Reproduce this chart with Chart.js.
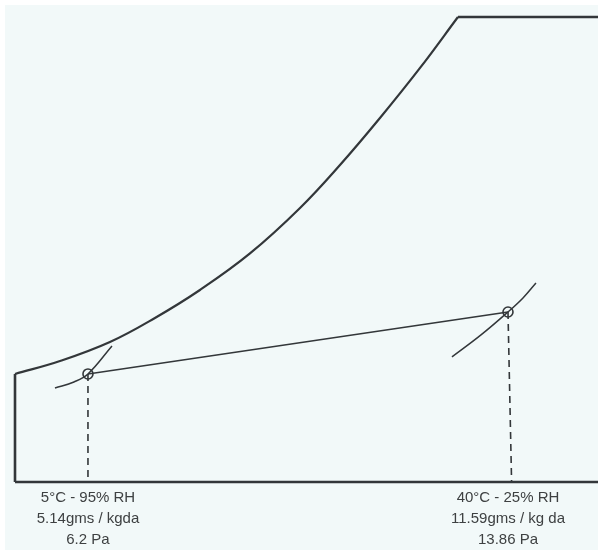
<!DOCTYPE html>
<html lang="en">
<head>
<meta charset="UTF-8">
<title>Psychrometric process</title>
<script src="https://cdn.jsdelivr.net/npm/chart.js"></script>
<style>
  * { margin: 0; padding: 0; box-sizing: border-box; }
  body { background: #ffffff; width: 598px; height: 550px; overflow: hidden; position: relative; }
  #bg { position: absolute; left: 5px; top: 5px; right: 0; bottom: 0; background: #f2f9f9; }
  #chart { position: absolute; left: 0; top: 0; }
</style>
</head>
<body>
<div id="bg"></div>
<canvas id="chart" width="598" height="550"></canvas>
<script>
// x = dry bulb temperature (°C), y = moisture content (g/kg dry air), schematic
const X_MIN = -2.33, X_MAX = 47.5;
const Y_MIN = -6.1, Y_MAX = 44.05;

// saturation curve
const satT = [-1.08, 2.67, 6.83, 10.58, 14.33, 18.5, 22.67, 26.0, 29.33, 32.67, 35.83];
const satW = [5.14, 6.49, 8.47, 10.97, 13.88, 17.68, 22.41, 26.88, 31.77, 36.98, 42.28];

// chart frame: top edge, left edge, bottom edge
const topT = [35.83, 47.5], topW = [42.28, 42.28];
const leftT = [-1.08, -1.08], leftW = [5.14, Y_MIN];
const bottomT = [-1.08, 47.5], bottomW = [Y_MIN, Y_MIN];

// relative humidity curves through the two states
const rh95T = [2.25, 3.83, 5.0, 7.0];
const rh95W = [3.68, 4.31, 5.14, 8.05];
const rh25T = [35.33, 37.75, 40.0, 41.25, 42.33];
const rh25W = [6.91, 9.2, 11.59, 13.05, 14.61];

// the two states and the process between them
const stateT = [5, 40];
const stateW = [5.14, 11.59];
const dropT = [[5, 5], [40, 40.3]];

const tickT = [5, 40];
const tickLabels = [
  ['5°C - 95% RH', '5.14gms / kgda', '6.2 Pa'],
  ['40°C - 25% RH', '11.59gms / kg da', '13.86 Pa']
];

const INK = '#33373a';
const pts = (xs, ys) => xs.map((x, i) => ({ x: x, y: ys[i] }));

function line(data, width, extra) {
  return Object.assign({
    data: data,
    borderColor: INK,
    borderWidth: width,
    pointRadius: 0,
    fill: false,
    showLine: true,
    clip: false
  }, extra || {});
}

const datasets = [
  line(pts(satT, satW), 2.2, { tension: 0.4 }),
  line(pts(topT, topW), 2.4),
  line(pts(leftT, leftW), 2.6),
  line(pts(bottomT, bottomW), 2.6),
  line(pts(rh95T, rh95W), 1.5, { tension: 0.4 }),
  line(pts(rh25T, rh25W), 1.5, { tension: 0.4 }),
  line(pts(dropT[0], [stateW[0], Y_MIN]), 1.6, { borderDash: [7, 5] }),
  line(pts(dropT[1], [stateW[1], Y_MIN]), 1.6, { borderDash: [7, 5] }),
  line(pts(stateT, stateW), 1.5, {
    pointRadius: 5,
    pointHoverRadius: 5,
    pointStyle: 'circle',
    pointBorderColor: INK,
    pointBorderWidth: 1.6,
    pointBackgroundColor: 'rgba(0,0,0,0)'
  })
];

new Chart(document.getElementById('chart'), {
  type: 'scatter',
  data: { datasets: datasets },
  options: {
    responsive: false,
    animation: false,
    devicePixelRatio: 1,
    layout: { padding: 0, autoPadding: false },
    plugins: { legend: { display: false }, tooltip: { enabled: false } },
    scales: {
      x: {
        type: 'linear',
        min: X_MIN,
        max: X_MAX,
        grid: { display: false, drawTicks: false },
        border: { display: false },
        afterBuildTicks: s => { s.ticks = tickT.map(v => ({ value: v })); },
        afterFit: s => { s.height = 68; },
        ticks: {
          padding: 6,
          maxRotation: 0,
          autoSkip: false,
          color: '#3e4142',
          font: { family: '"Liberation Sans", Arial, sans-serif', size: 15, lineHeight: 1.37 },
          callback: (v, i) => tickLabels[i]
        }
      },
      y: {
        type: 'linear',
        display: false,
        min: Y_MIN,
        max: Y_MAX
      }
    }
  }
});
</script>
</body>
</html>
